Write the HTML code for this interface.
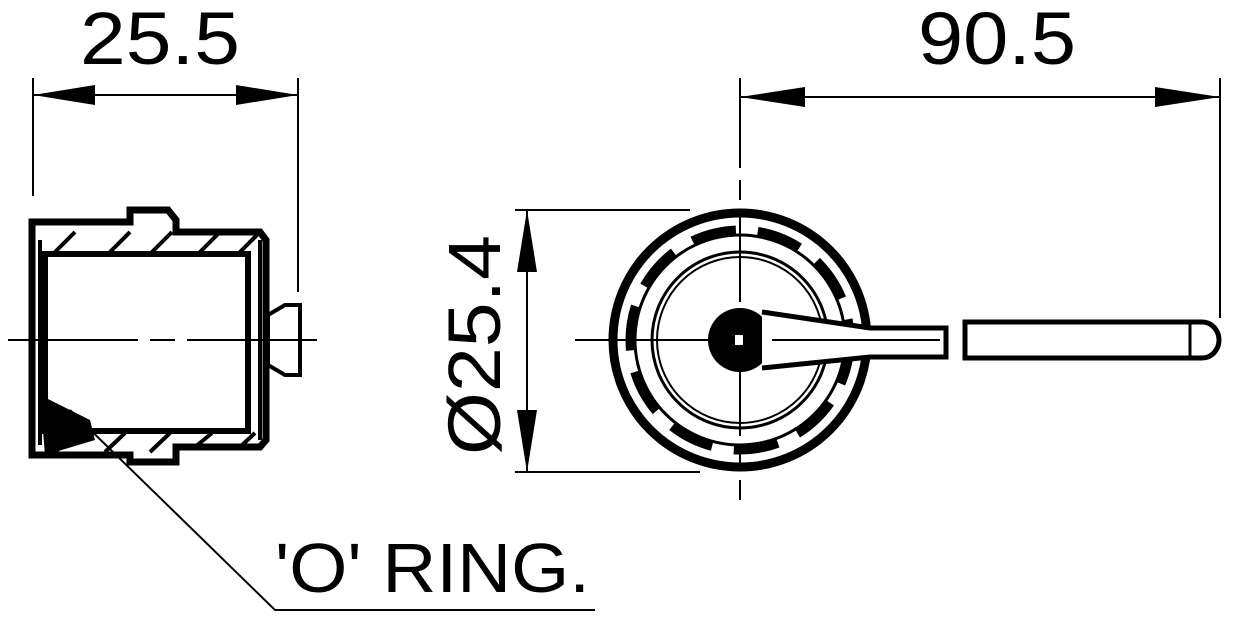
<!DOCTYPE html>
<html><head><style>body{margin:0;background:#fff}svg{display:block}</style></head><body>
<svg width="1233" height="622" viewBox="0 0 1233 622" xmlns="http://www.w3.org/2000/svg" font-family="Liberation Sans, sans-serif">
<g stroke="#000" fill="none">
<line x1="33" y1="78" x2="33" y2="196" stroke-width="2"/>
<line x1="298" y1="78" x2="298" y2="292" stroke-width="2"/>
<line x1="33" y1="95" x2="298" y2="95" stroke-width="2"/>
<line x1="740" y1="78" x2="740" y2="500" stroke-width="2" stroke-dasharray="90,12,20,12"/>
<line x1="1220" y1="78" x2="1220" y2="318" stroke-width="2"/>
<line x1="740" y1="97" x2="1220" y2="97" stroke-width="2"/>
<line x1="515" y1="210" x2="690" y2="210" stroke-width="2"/>
<line x1="515" y1="472" x2="700" y2="472" stroke-width="2"/>
<line x1="527" y1="210" x2="527" y2="472" stroke-width="2"/>
<line x1="8" y1="340" x2="322" y2="340" stroke-width="2" stroke-dasharray="130,12,25,12"/>
<line x1="575" y1="340" x2="720" y2="340" stroke-width="2"/>
<path d="M32 222 H130 V210 H168 L176 220 V232 H260 L266 240 V440 L260 447 H176 V462 H130 V455 H32 Z" stroke-width="7"/>
<rect x="45" y="254" width="203" height="177" stroke-width="6"/>
<line x1="40" y1="240" x2="40" y2="445" stroke-width="4"/>
<line x1="260" y1="240" x2="260" y2="440" stroke-width="4"/>
<g stroke-width="4">
<line x1="55" y1="252" x2="75" y2="232"/><line x1="110" y1="252" x2="130" y2="232"/><line x1="152" y1="252" x2="172" y2="232"/><line x1="200" y1="252" x2="220" y2="232"/><line x1="240" y1="252" x2="258" y2="234"/>
<line x1="55" y1="452" x2="75" y2="433"/><line x1="105" y1="452" x2="125" y2="433"/><line x1="150" y1="452" x2="170" y2="433"/><line x1="195" y1="447" x2="212" y2="433"/><line x1="240" y1="447" x2="255" y2="433"/>
</g>
<path d="M268 315 L285 305 H300 V375 H285 L268 365 Z" stroke-width="4"/>
<polygon points="40,395 90,420 95,440 45,455" fill="#000" stroke="none"/>
<polyline points="70,410 275,610 595,610" stroke-width="2"/>
<circle cx="740" cy="340" r="127" stroke-width="9"/>
<circle cx="740" cy="340" r="105" stroke-width="3"/>
<circle cx="740" cy="340" r="110" stroke-width="9" stroke-dasharray="45,22"/>
<circle cx="740" cy="340" r="88" stroke-width="3"/>
<circle cx="740" cy="340" r="83" stroke-width="2"/>
<circle cx="740" cy="340" r="32" fill="#000" stroke="none"/>
<path d="M762 312 L870 328 H946 V357 H870 L762 368" stroke-width="5" fill="#fff"/>
<line x1="772" y1="340" x2="940" y2="340" stroke-width="2"/>
<path d="M965 322 H1202 A17 18 0 0 1 1202 358 H965 Z" stroke-width="5" fill="#fff"/>
<line x1="1190" y1="322" x2="1190" y2="358" stroke-width="3"/>
<rect x="735" y="335" width="8" height="10" fill="#fff" stroke="none"/>
</g>
<g fill="#000">
<polygon points="33,95 95,85 95,105"/><polygon points="298,95 236,85 236,105"/>
<polygon points="740,97 805,87 805,107"/><polygon points="1220,97 1155,87 1155,107"/>
<polygon points="527,210 517,272 537,272"/><polygon points="527,472 517,410 537,410"/>
</g>
<g font-size="74" fill="#000">
<text x="80" y="64" textLength="160" lengthAdjust="spacingAndGlyphs">25.5</text>
<text x="918" y="64" textLength="158" lengthAdjust="spacingAndGlyphs">90.5</text>
<text transform="translate(500,455) rotate(-90)" textLength="220" lengthAdjust="spacingAndGlyphs">Ø25.4</text>
<text x="275" y="592" font-size="70" textLength="315" lengthAdjust="spacingAndGlyphs">'O'  RING.</text>
</g>
</svg>
</body></html>
